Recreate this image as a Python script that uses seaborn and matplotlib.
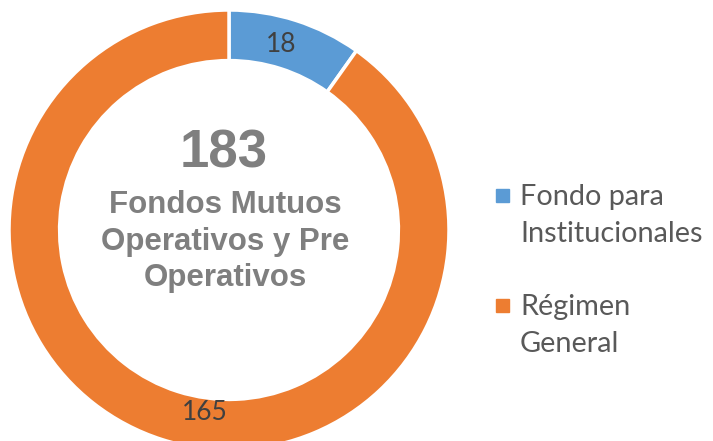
import matplotlib
matplotlib.use("Agg")
import matplotlib.pyplot as plt
from matplotlib.patches import Rectangle
import seaborn as sns
import numpy as np

categorias = ["Fondo para\nInstitucionales", "Régimen\nGeneral"]
valores = [18, 165]
colores = ["#5B9BD5", "#ED7D31"]
total_texto = "183"
subtitulo = ["Fondos Mutuos", "Operativos y Pre", "Operativos"]

W, H = 713, 441
sns.set_theme(style="white")
plt.rcParams['font.family'] = ['Lato', 'DejaVu Sans']

fig = plt.figure(figsize=(W / 100, H / 100), dpi=100)
# anillo: centro ~ (229, 230) px, radio ~ 220 px
ax = fig.add_axes([9 / W, (H - 230 - 220) / H, 440 / W, 440 / H])

wedges, _ = ax.pie(valores, colors=colores, startangle=90, counterclock=False,
                   radius=1.0, wedgeprops=dict(width=0.23, edgecolor="white", linewidth=2.5))
ax.set_xlim(-1, 1)
ax.set_ylim(-1, 1)
ax.set_aspect("equal")
ax.axis("off")

# etiquetas de datos
r_lab = 0.885
ang = 90 - 360 * valores[0] / sum(valores) / 2
ax.text(r_lab * np.cos(np.radians(ang)) - 0.03, r_lab * np.sin(np.radians(ang)), str(valores[0]),
        ha="center", va="center", fontsize=19, color="#404040")
ax.text(-0.11, -0.83, str(valores[1]), ha="center", va="center", fontsize=19, color="#404040")


def px(x, y):
    return x / W, 1 - y / H


# texto central
fig.text(*px(224, 167), total_texto, ha="center", va="baseline", fontsize=38, fontweight="bold",
         color="#7F7F7F", family="Liberation Sans")
for linea, yb in zip(subtitulo, [213, 250, 286]):
    fig.text(*px(225, yb), linea, ha="center", va="baseline", fontsize=22.5, fontweight="bold",
             color="#7F7F7F", family="Liberation Sans")

# leyenda
for cat, col, y0 in zip(categorias, colores, [195, 305]):
    x0, y0f = px(495.5, y0 + 6.5)
    fig.add_artist(Rectangle((x0, y0f), 13 / W, 13 / H, color=col, transform=fig.transFigure))
    for k, linea in enumerate(cat.split("\n")):
        fig.text(*px(520, y0 + 10 + 37 * k), linea, ha="left", va="baseline", fontsize=20.8,
                 color="#595959")

fig.savefig("out.png", dpi=100)
